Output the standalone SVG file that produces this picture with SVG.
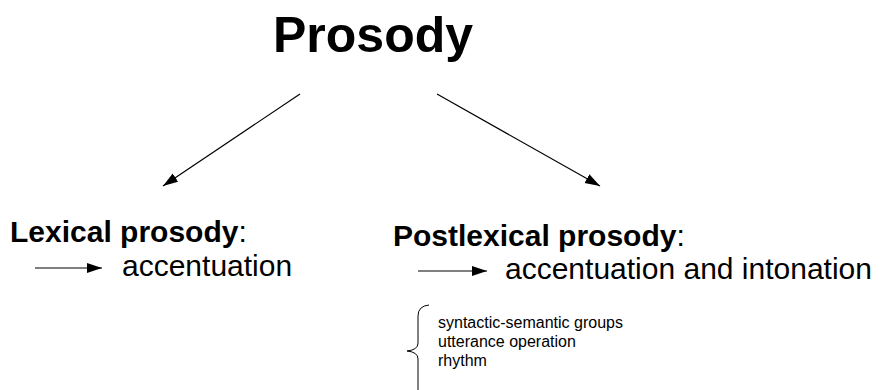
<svg xmlns="http://www.w3.org/2000/svg" width="880" height="390" viewBox="0 0 880 390">
  <style>
    text { font-family: "Liberation Sans", Arial, sans-serif; fill: #000; }
    .title { font-size: 50px; font-weight: bold; }
    .head { font-size: 30px; }
    .head .b { font-weight: bold; }
    .big { font-size: 30px; }
    .small { font-size: 16px; }
    .edge { stroke: #000; stroke-width: 1.2; fill: none; }
    .brace { stroke: #000; stroke-width: 1; fill: none; }
  </style>
  <defs>
    <marker id="arrow" markerUnits="userSpaceOnUse" markerWidth="16" markerHeight="12" refX="15" refY="5" orient="auto">
      <path d="M0,0 L15,5 L0,10 Z" fill="#000"/>
    </marker>
  </defs>

  <g id="prosody">
    <text class="title" x="273" y="52">Prosody</text>
  </g>

  <g id="connectors">
    <line class="edge" x1="300" y1="94" x2="163" y2="186" marker-end="url(#arrow)"/>
    <line class="edge" x1="437" y1="94" x2="600" y2="186" marker-end="url(#arrow)"/>
    <line class="edge" x1="35" y1="268" x2="102" y2="268" marker-end="url(#arrow)"/>
    <line class="edge" x1="418" y1="271" x2="487" y2="271" marker-end="url(#arrow)"/>
  </g>

  <g id="lexical">
    <text class="head" x="10" y="242"><tspan class="b">Lexical prosody</tspan>:</text>
    <text class="big" x="122" y="276">accentuation</text>
  </g>

  <g id="postlexical">
    <text class="head" x="393" y="246"><tspan class="b">Postlexical prosody</tspan>:</text>
    <text class="big" x="505" y="279">accentuation and intonation</text>
    <path class="brace" d="M429,305 Q418,306 418,316 L418,343 Q418,350 407,351 Q418,352 418,359 L418,400"/>
    <text class="small" x="438" y="328">syntactic-semantic groups</text>
    <text class="small" x="438" y="347">utterance operation</text>
    <text class="small" x="438" y="366">rhythm</text>
  </g>
</svg>
